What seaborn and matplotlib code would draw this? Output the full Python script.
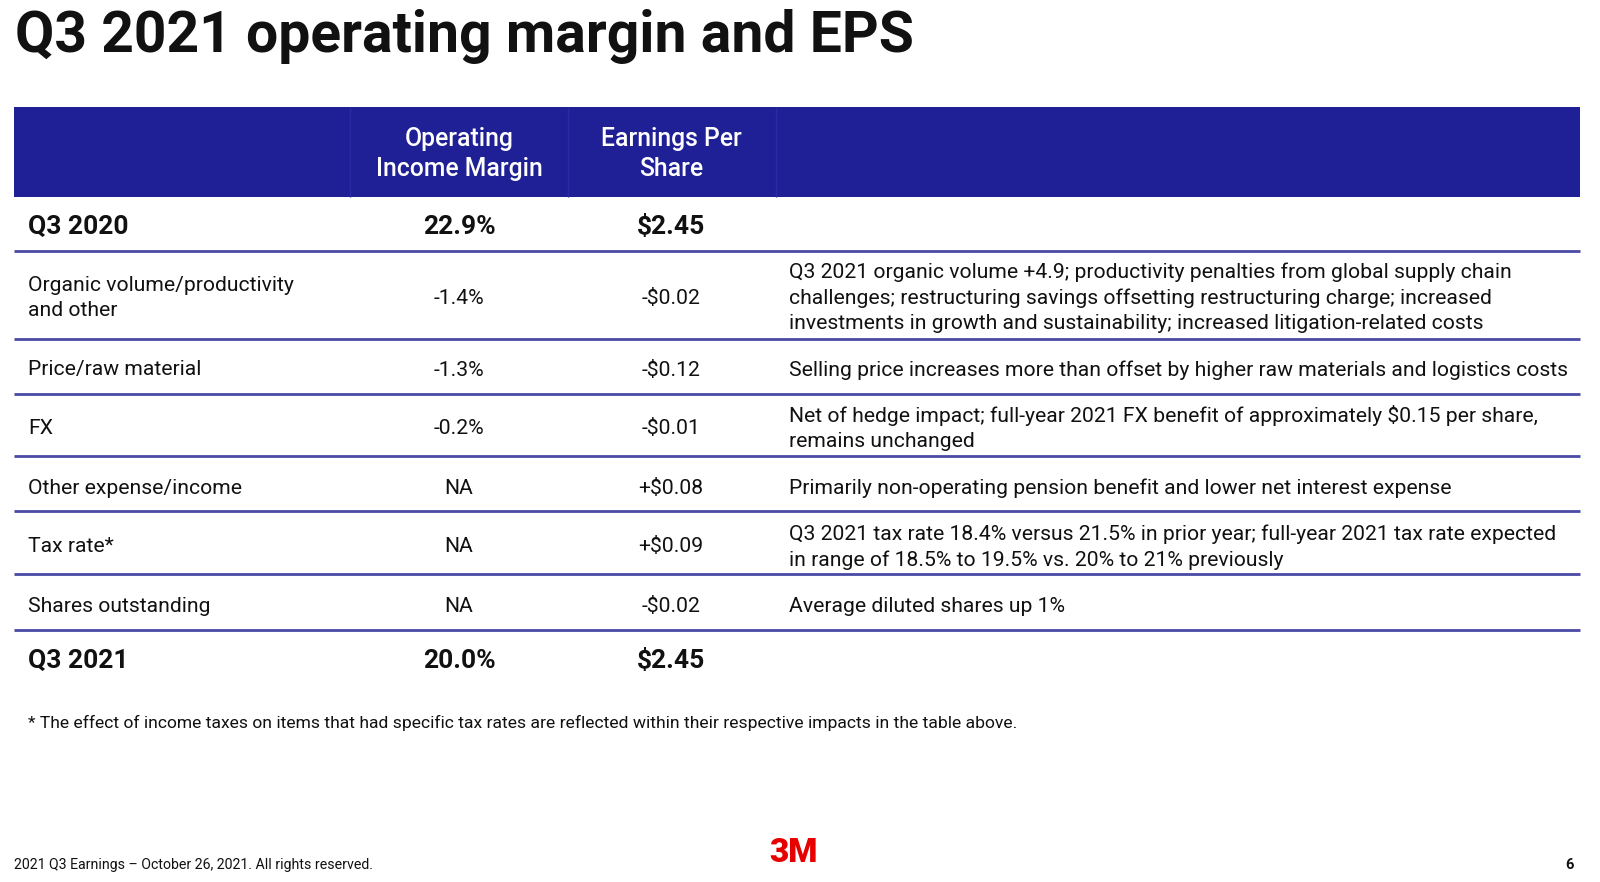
import matplotlib.pyplot as plt
import seaborn as sns
from matplotlib.patches import Rectangle

# table content
row_labels = ["Q3 2020", "Organic volume/productivity\nand other", "Price/raw material", "FX",
              "Other expense/income", "Tax rate*", "Shares outstanding", "Q3 2021"]
margin = ["22.9%", "-1.4%", "-1.3%", "-0.2%", "NA", "NA", "NA", "20.0%"]
eps = ["$2.45", "-$0.02", "-$0.12", "-$0.01", "+$0.08", "+$0.09", "-$0.02", "$2.45"]
comments = [
    "",
    "Q3 2021 organic volume +4.9; productivity penalties from global supply chain\n"
    "challenges; restructuring savings offsetting restructuring charge; increased\n"
    "investments in growth and sustainability; increased litigation-related costs",
    "Selling price increases more than offset by higher raw materials and logistics costs",
    "Net of hedge impact; full-year 2021 FX benefit of approximately $0.15 per share,\nremains unchanged",
    "Primarily non-operating pension benefit and lower net interest expense",
    "Q3 2021 tax rate 18.4% versus 21.5% in prior year; full-year 2021 tax rate expected\n"
    "in range of 18.5% to 19.5% vs. 20% to 21% previously",
    "Average diluted shares up 1%",
    "",
]
col_headers = ["Operating\nIncome Margin", "Earnings Per\nShare"]
bold_rows = [0, 7]

title = "Q3 2021 operating margin and EPS"
footnote = "* The effect of income taxes on items that had specific tax rates are reflected within their respective impacts in the table above."
footer = "2021 Q3 Earnings \u2013 October 26, 2021. All rights reserved."

# layout (pixel coords, y down)
row_y = [227, 298, 370, 428, 488, 547, 606, 661]
line_y = [251, 339, 394, 456, 511, 574, 630]
x_label, x_margin, x_eps, x_comment = 28, 459, 671, 789
navy = "#1f1f96"
rule = "#4a4aa6"

sns.set_theme(style="white")
plt.rcParams['font.family'] = ['Roboto', 'DejaVu Sans']

fig = plt.figure(figsize=(16, 8.82), dpi=100)
ax = fig.add_axes([0, 0, 1, 1])
ax.set_xlim(0, 1600)
ax.set_ylim(882, 0)
ax.axis('off')

ax.text(15, 37, title, fontsize=41, fontweight='bold', va='center', ha='left', color='#111111')

# header band
ax.add_patch(Rectangle((14, 107), 1566, 90, color=navy, lw=0))
for xd in [350, 568, 776]:
    ax.vlines(xd, 107, 197, color='#2a2aa3', lw=1)
for xc, h in zip([x_margin, x_eps], col_headers):
    ax.text(xc, 154, h, fontsize=17.8, color='white', ha='center', va='center',
            fontweight='medium', linespacing=1.3)

# rows
for i, lab in enumerate(row_labels):
    b = i in bold_rows
    fs = 19 if b else 15.2
    fw = 'bold' if b else 'normal'
    ax.text(x_label, row_y[i], lab, fontsize=fs, fontweight=fw, va='center', ha='left',
            color='#111111', linespacing=1.4)
    ax.text(x_margin, row_y[i], margin[i], fontsize=fs, fontweight=fw, va='center', ha='center', color='#111111')
    ax.text(x_eps, row_y[i], eps[i], fontsize=fs, fontweight=fw, va='center', ha='center', color='#111111')
    if comments[i]:
        ax.text(x_comment, row_y[i], comments[i], fontsize=15.2, va='center', ha='left',
                color='#111111', linespacing=1.4)

ax.hlines(line_y, 14, 1580, color=rule, lw=2)

ax.text(28, 723, footnote, fontsize=12.6, va='center', ha='left', color='#111111')
ax.text(14, 865, footer, fontsize=10.2, va='center', ha='left', color='#111111')
ax.text(794, 853, "3M", fontsize=24, fontweight='black', color='#e60000', ha='center', va='center')
ax.text(1569, 865, "6", fontsize=10.5, fontweight='bold', color='#111111', ha='center', va='center')

fig.savefig("out.png", dpi=100, facecolor='white')
